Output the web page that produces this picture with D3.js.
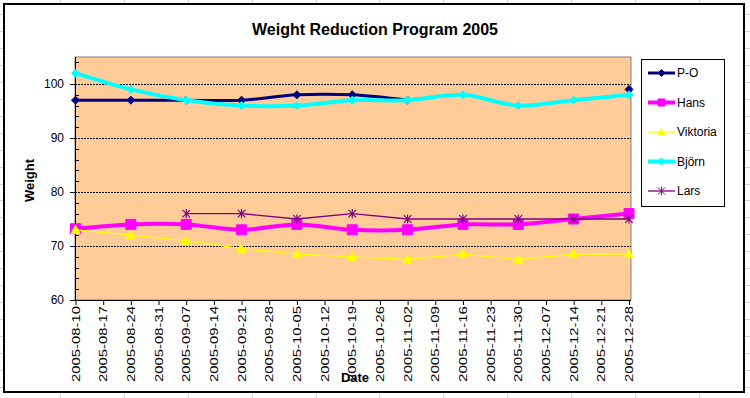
<!DOCTYPE html>
<html>
<head>
<meta charset="utf-8">
<script src="https://cdn.jsdelivr.net/npm/d3@7"></script>
<style>
  html, body { margin: 0; padding: 0; background: #fff; }
  svg { display: block; font-family: "Liberation Sans", Arial, sans-serif; }
</style>
</head>
<body>
<svg id="chart" width="750" height="398"></svg>
<script>
// ---------- data ----------
const weekLabels = ["2005-08-10","2005-08-17","2005-08-24","2005-08-31","2005-09-07","2005-09-14",
  "2005-09-21","2005-09-28","2005-10-05","2005-10-12","2005-10-19","2005-10-26","2005-11-02",
  "2005-11-09","2005-11-16","2005-11-23","2005-11-30","2005-12-07","2005-12-14","2005-12-21","2005-12-28"];
const weighDates = ["2005-08-10","2005-08-24","2005-09-07","2005-09-21","2005-10-05","2005-10-19",
  "2005-11-02","2005-11-16","2005-11-30","2005-12-14","2005-12-28"];
const poValues       = [97, 97, 97, 97, 98, 98, 97, null, null, null, 99];
const hansValues     = [73.2, 74, 74, 73, 74, 73, 73, 74, 74, 75, 76];
const viktoriaValues = [73, 72, 71, 69.5, 68.5, 68, 67.5, 68.5, 67.5, 68.5, 68.5];
const bjornValues    = [102, 99, 97, 96, 96, 97, 97, 98, 96, 97, 98];
const larsValues     = [null, null, 76, 76, 75, 76, 75, 75, 75, 75, 75];
const yMajorTicks = [60, 70, 80, 90, 100];
const yMinorTicks = d3.range(62, 105, 2).filter(v => v % 10 !== 0);

const series = [
  {name: "P-O",      values: poValues,       color: "#000080", width: 3,   smooth: true,  marker: "diamond", size: 4},
  {name: "Hans",     values: hansValues,     color: "#FF00FF", width: 4,   smooth: true,  marker: "square",  size: 5},
  {name: "Viktoria", values: viktoriaValues, color: "#FFFF00", width: 1.3, smooth: false, marker: "triangle",size: 4.5},
  {name: "Björn",    values: bjornValues,    color: "#00FFFF", width: 4,   smooth: true,  marker: "diamond", size: 4},
  {name: "Lars",     values: larsValues,     color: "#800080", width: 1.3, smooth: false, marker: "star",    size: 3.8}
];

// ---------- layout ----------
const W = 750, H = 398;
const frame = {x: 4, y: 4, w: 740, h: 388};
const plot = {left: 75, top: 57, right: 631, bottom: 300};

const svg = d3.select("#chart");

// spreadsheet background grid
const bg = svg.append("g").attr("stroke", "#d0d0d0").attr("stroke-width", 1);
d3.range(-4, 760, 63.9).forEach(x => bg.append("line")
  .attr("x1", Math.round(x) + 0.5).attr("x2", Math.round(x) + 0.5).attr("y1", 0).attr("y2", H));
d3.range(14, 400, 16.95).forEach(y => bg.append("line")
  .attr("y1", Math.round(y) + 0.5).attr("y2", Math.round(y) + 0.5).attr("x1", 0).attr("x2", W));

// chart frame
svg.append("rect").attr("x", frame.x).attr("y", frame.y).attr("width", frame.w).attr("height", frame.h)
  .attr("fill", "#fff").attr("stroke", "#000").attr("stroke-width", 2);

// scales
const x = d3.scalePoint().domain(weekLabels).range([plot.left + 0.5, plot.right - 2]);
const y = d3.scaleLinear().domain([60, 105]).range([plot.bottom, plot.top]);

// plot area
svg.append("rect").attr("x", plot.left).attr("y", plot.top)
  .attr("width", plot.right - plot.left).attr("height", plot.bottom - plot.top)
  .attr("fill", "#FFCC99").attr("stroke", "#808080").attr("stroke-width", 1);

// gridlines
svg.append("g").selectAll("line").data(yMajorTicks.filter(v => v > 60)).join("line")
  .attr("x1", plot.left).attr("x2", plot.right)
  .attr("y1", d => Math.round(y(d)) + 0.5).attr("y2", d => Math.round(y(d)) + 0.5)
  .attr("stroke", "#000").attr("stroke-width", 1).attr("stroke-dasharray", "2,1");

// y axis
const yAxis = svg.append("g").attr("transform", `translate(${plot.left},0)`)
  .call(d3.axisLeft(y).tickValues(yMajorTicks).tickSize(5).tickSizeOuter(0).tickPadding(6));
yAxis.select(".domain").attr("stroke", "#000").attr("d", `M0.5,${plot.top}V${plot.bottom}`);
yAxis.selectAll(".tick line").attr("stroke", "#000").attr("x2", -5);
yAxis.selectAll(".tick text").attr("font-size", 12).attr("font-family", "Liberation Sans, Arial, sans-serif").attr("fill", "#000");
svg.append("g").selectAll("line").data(yMinorTicks).join("line")
  .attr("x1", plot.left).attr("x2", plot.left + 4)
  .attr("y1", d => Math.round(y(d)) + 0.5).attr("y2", d => Math.round(y(d)) + 0.5)
  .attr("stroke", "#000");

// x axis
const xAxis = svg.append("g").attr("transform", `translate(0,${plot.bottom})`)
  .call(d3.axisBottom(x).tickSize(5).tickSizeOuter(0).tickFormat(""));
xAxis.select(".domain").attr("stroke", "#000").attr("d", `M${plot.left},0.5H${plot.right}`);
xAxis.selectAll(".tick line").attr("stroke", "#000");
svg.append("g").selectAll("text").data(weekLabels).join("text")
  .attr("transform", d => `translate(${x(d)},306) rotate(-90)`)
  .attr("text-anchor", "end").attr("dy", "0.36em")
  .attr("font-size", 11.5).attr("fill", "#000")
  .attr("textLength", 76).attr("lengthAdjust", "spacingAndGlyphs")
  .text(d => d);

// axis titles & title
svg.append("text").attr("x", 375).attr("y", 35).attr("text-anchor", "middle")
  .attr("font-size", 16).attr("font-weight", "bold").text("Weight Reduction Program 2005");
svg.append("text").attr("transform", `translate(34,${(plot.top + plot.bottom) / 2 + 2}) rotate(-90)`)
  .attr("text-anchor", "middle").attr("font-size", 13).attr("font-weight", "bold").text("Weight");
svg.append("text").attr("x", 355).attr("y", 382).attr("text-anchor", "middle")
  .attr("font-size", 13).attr("font-weight", "bold").text("Date");

// markers
function markerPath(type, s) {
  switch (type) {
    case "diamond": return `M0,${-s}L${s},0L0,${s}L${-s},0Z`;
    case "square": return `M${-s},${-s}H${s}V${s}H${-s}Z`;
    case "triangle": return `M0,${-s}L${s},${s * 0.8}H${-s}Z`;
    case "star": return `M${-s},${-s}L${s},${s}M${s},${-s}L${-s},${s}M0,${-s * 1.2}V${s * 1.2}`;
  }
}

// series
series.forEach(s => {
  const pts = weighDates.map((d, i) => ({date: d, v: s.values[i]}));
  const line = d3.line()
    .defined(p => p.v != null)
    .x(p => x(p.date)).y(p => y(p.v))
    .curve(s.smooth ? d3.curveCatmullRom.alpha(0.5) : d3.curveLinear);
  const g = svg.append("g");
  g.append("path").attr("d", line(pts)).attr("fill", "none")
    .attr("stroke", s.color).attr("stroke-width", s.width).attr("stroke-linejoin", "round");
  g.selectAll("path.m").data(pts.filter(p => p.v != null)).join("path").attr("class", "m")
    .attr("transform", p => `translate(${x(p.date)},${y(p.v)})`)
    .attr("d", markerPath(s.marker, s.size))
    .attr("fill", s.marker === "star" ? "none" : s.color)
    .attr("stroke", s.color).attr("stroke-width", s.marker === "star" ? 1.2 : 1);
});

// legend
const legend = svg.append("g");
legend.append("rect").attr("x", 641.5).attr("y", 59.5).attr("width", 83).attr("height", 147)
  .attr("fill", "#fff").attr("stroke", "#000").attr("stroke-width", 1);
const legY = d3.scalePoint().domain(series.map(s => s.name)).range([73, 191]);
series.forEach(s => {
  const cy = legY(s.name);
  const g = legend.append("g");
  g.append("line").attr("x1", 648).attr("x2", 675).attr("y1", cy).attr("y2", cy)
    .attr("stroke", s.color).attr("stroke-width", s.width);
  g.append("path").attr("transform", `translate(661.5,${cy})`)
    .attr("d", markerPath(s.marker, s.marker === "square" ? 3.5 : 3.5))
    .attr("fill", s.marker === "star" ? "none" : s.color)
    .attr("stroke", s.color).attr("stroke-width", 1);
  g.append("text").attr("x", 677).attr("y", cy).attr("dy", "0.36em")
    .attr("font-size", 12).attr("fill", "#000").text(s.name);
});
</script>
</body>
</html>
